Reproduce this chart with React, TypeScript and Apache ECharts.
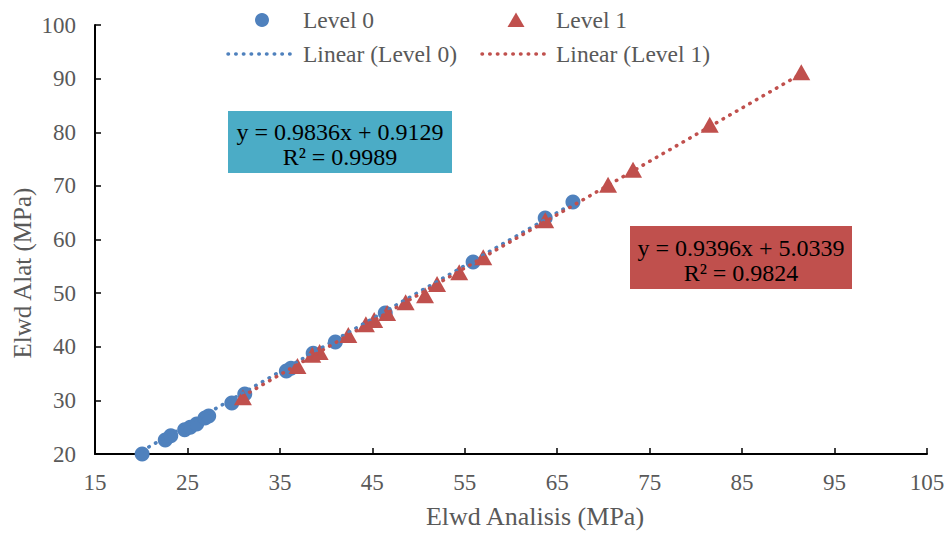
import React, { useEffect, useRef } from "react";
import * as echarts from "echarts";

const level0X = [20.1, 22.6, 23.2, 24.7, 25.3, 26.0, 26.9, 27.3, 29.8, 31.2, 35.7, 36.2, 38.6, 41.0, 46.4, 55.9, 63.7, 66.7];
const level0Y = [20.0, 22.6, 23.4, 24.5, 25.0, 25.6, 26.7, 27.1, 29.5, 31.2, 35.5, 36.0, 38.8, 40.9, 46.3, 55.8, 64.0, 67.0];
const level1X = [31.0, 36.9, 38.5, 39.3, 42.4, 44.3, 45.2, 46.6, 48.6, 50.7, 52.0, 54.4, 57.0, 63.7, 70.5, 73.2, 81.5, 91.4];
const level1Y = [30.6, 36.4, 38.5, 39.0, 42.2, 44.2, 45.0, 46.3, 48.3, 49.6, 51.7, 53.9, 56.7, 63.6, 70.2, 73.0, 81.4, 91.2];

// trendline endpoints as drawn in the picture
const trend0X = [20.1, 66.7];
const trend0Y = [20.6, 66.7];
const trend1X = [31.0, 91.4];
const trend1Y = [30.8, 90.9];

const eq0Lines = ["y = 0.9836x + 0.9129", "R² = 0.9989"];
const eq1Lines = ["y = 0.9396x + 5.0339", "R² = 0.9824"];

const seriesNames = ["Level 0", "Level 1", "Linear (Level 0)", "Linear (Level 1)"];
const xTitle = "Elwd Analisis (MPa)";
const yTitle = "Elwd Alat (MPa)";

const BLUE = "#4F81BD";
const RED = "#C0504D";
const FONT = "Liberation Serif, Times New Roman, serif";
const GRAY = "#595959";

export default function App() {
  const ref = useRef<HTMLDivElement>(null);
  useEffect(() => {
    if (!ref.current) return;
    const chart = echarts.init(ref.current, null, { renderer: "svg" });
    const dotted = (color: string) => ({ color, width: 3.5, type: [0.5, 7.2], cap: "round" as const });
    const txt = (x: number, y: number, text: string, extra: any = {}) => ({
      type: "text",
      x,
      y,
      style: { text, fontFamily: FONT, fontSize: 23.5, fill: GRAY, verticalAlign: "middle", ...extra },
    });
    chart.setOption({
      animation: false,
      backgroundColor: "#fff",
      grid: { left: 95, right: 21, top: 25, bottom: 79 },
      xAxis: {
        type: "value",
        min: 15,
        max: 105,
        interval: 10,
        splitLine: { show: false },
        axisLine: { show: true, onZero: false, lineStyle: { color: "#000", width: 2 } },
        axisTick: { show: true, inside: true, length: 6, lineStyle: { color: "#000", width: 1.5 } },
        axisLabel: { margin: 17, fontSize: 23, color: GRAY, fontFamily: FONT },
      },
      yAxis: {
        type: "value",
        min: 20,
        max: 100,
        interval: 10,
        splitLine: { show: false },
        axisLine: { show: true, onZero: false, lineStyle: { color: "#000", width: 2 } },
        axisTick: { show: true, inside: true, length: 6, lineStyle: { color: "#000", width: 1.5 } },
        axisLabel: { margin: 19, fontSize: 23, color: GRAY, fontFamily: FONT },
      },
      series: [
        {
          name: seriesNames[0],
          type: "scatter",
          symbol: "circle",
          symbolSize: 15,
          itemStyle: { color: BLUE, opacity: 1 },
          data: level0X.map((x, i) => [x, level0Y[i]]),
          z: 2,
        },
        {
          name: seriesNames[1],
          type: "scatter",
          symbol: "triangle",
          symbolSize: [18, 16],
          itemStyle: { color: RED, opacity: 1 },
          data: level1X.map((x, i) => [x, level1Y[i]]),
          z: 3,
        },
        {
          name: seriesNames[2],
          type: "line",
          symbol: "none",
          silent: true,
          lineStyle: dotted(BLUE),
          data: trend0X.map((x, i) => [x, trend0Y[i]]),
          z: 4,
        },
        {
          name: seriesNames[3],
          type: "line",
          symbol: "none",
          silent: true,
          lineStyle: dotted(RED),
          data: trend1X.map((x, i) => [x, trend1Y[i]]),
          z: 5,
        },
      ],
      graphic: [
        // legend row 1
        { type: "circle", shape: { cx: 262, cy: 20, r: 7 }, style: { fill: BLUE } },
        txt(303, 20, seriesNames[0]),
        { type: "polygon", shape: { points: [[516, 12.5], [524.5, 27], [507.5, 27]] }, style: { fill: RED } },
        txt(556, 20, seriesNames[1]),
        // legend row 2
        { type: "line", shape: { x1: 228, y1: 54, x2: 292, y2: 54 }, style: { stroke: BLUE, lineWidth: 3.5, lineDash: [0.5, 7.2], lineCap: "round" } },
        txt(303, 54, seriesNames[2]),
        { type: "line", shape: { x1: 482, y1: 54, x2: 546, y2: 54 }, style: { stroke: RED, lineWidth: 3.5, lineDash: [0.5, 7.2], lineCap: "round" } },
        txt(556, 54, seriesNames[3]),
        // equation boxes
        { type: "rect", shape: { x: 228, y: 111, width: 224, height: 62 }, style: { fill: "#4BACC6" } },
        txt(340, 132, eq0Lines[0], { fontSize: 24, fill: "#000", align: "center" }),
        txt(340, 157, eq0Lines[1], { fontSize: 24, fill: "#000", align: "center" }),
        { type: "rect", shape: { x: 630, y: 226, width: 222, height: 63 }, style: { fill: RED } },
        txt(741, 248, eq1Lines[0], { fontSize: 24, fill: "#000", align: "center" }),
        txt(741, 273, eq1Lines[1], { fontSize: 24, fill: "#000", align: "center" }),
        // axis titles
        txt(535, 516, xTitle, { fontSize: 26, align: "center" }),
        { ...txt(22, 273, yTitle, { fontSize: 25, align: "center" }), rotation: Math.PI / 2 },
      ],
    });
    return () => chart.dispose();
  }, []);
  return <div ref={ref} style={{ width: 948, height: 533, position: "absolute", left: 0, top: 0 }} />;
}
